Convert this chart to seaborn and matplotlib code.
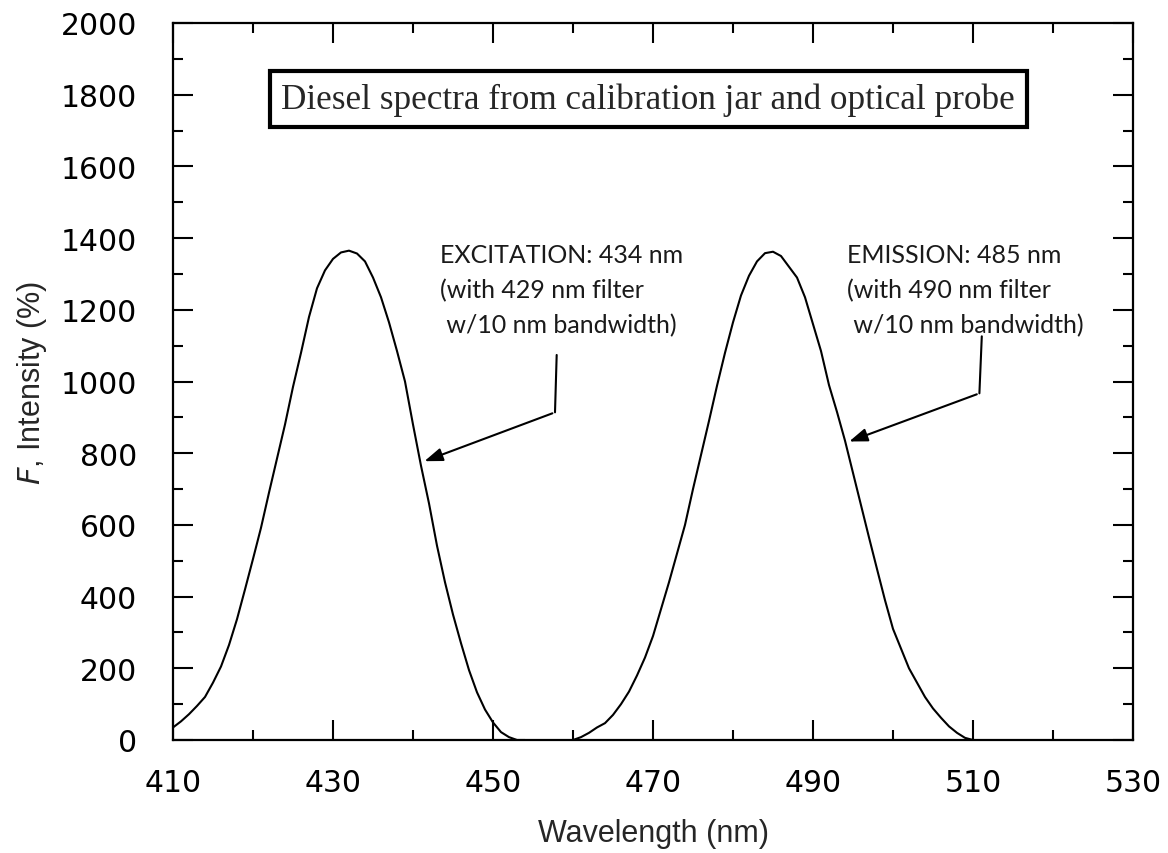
import numpy as np
import pandas as pd
import matplotlib
matplotlib.use("Agg")
import matplotlib.pyplot as plt
import seaborn as sns
from matplotlib.ticker import MultipleLocator

# ---- data ----
exc_wavelength = list(range(410, 455))
exc_intensity = [35, 52, 72, 95, 120, 160, 205, 265, 337, 420,
                 505, 592, 690, 785, 880, 985, 1080, 1180, 1260, 1310,
                 1342, 1360, 1365, 1357, 1335, 1290, 1235, 1165, 1085, 1000,
                 880, 765, 660, 542, 440, 350, 270, 195, 133, 85,
                 49, 22, 8, 0, 0]

em_wavelength = list(range(460, 511))
em_intensity = [0, 8, 20, 35, 47, 70, 100, 135, 180, 230,
                290, 365, 440, 520, 600, 700, 795, 890, 988, 1080,
                1165, 1240, 1295, 1335, 1358, 1362, 1350, 1320, 1290, 1235,
                1160, 1085, 990, 915, 835, 745, 655, 565, 477, 390,
                310, 255, 200, 160, 120, 88, 62, 38, 20, 6, 0]

x_ticks = [410, 430, 450, 470, 490, 510, 530]
y_ticks = [0, 200, 400, 600, 800, 1000, 1200, 1400, 1600, 1800, 2000]

title_text = "Diesel spectra from calibration jar and optical probe"
exc_lines = ["EXCITATION: 434 nm", "(with 429 nm filter", " w/10 nm bandwidth)"]
em_lines = ["EMISSION: 485 nm", "(with 490 nm filter", " w/10 nm bandwidth)"]

df = pd.concat([
    pd.DataFrame({"Wavelength": exc_wavelength, "Intensity": exc_intensity, "series": "Excitation"}),
    pd.DataFrame({"Wavelength": em_wavelength, "Intensity": em_intensity, "series": "Emission"}),
], ignore_index=True)

sns.set_style("ticks")
plt.rcParams["font.family"] = ["DejaVu Sans"]

fig = plt.figure(figsize=(11.68, 8.54), dpi=100)
ax = fig.add_axes([173 / 1168, 113 / 854, 960 / 1168, 717 / 854])

sns.lineplot(data=df, x="Wavelength", y="Intensity", hue="series",
             palette=["black", "black"], legend=False, linewidth=1.5, ax=ax)

ax.set_xlim(410, 530)
ax.set_ylim(0, 2000)
ax.set_xticks(x_ticks)
ax.set_yticks(y_ticks)
ax.xaxis.set_minor_locator(MultipleLocator(10))
ax.yaxis.set_minor_locator(MultipleLocator(100))
ax.tick_params(which="both", direction="in", top=True, right=True, width=1.5, colors="black")
ax.tick_params(which="major", length=14.5)
ax.tick_params(which="minor", length=7.5)
ax.tick_params(axis="x", which="major", pad=20, labelsize=21.5)
ax.tick_params(axis="y", which="major", pad=26, labelsize=21.5)
for s in ax.spines.values():
    s.set_linewidth(1.6)
    s.set_color("black")

ax.set_xlabel("Wavelength (nm)", fontsize=22, family="Liberation Sans", labelpad=15)
ax.set_ylabel(r"$\it{F}$, Intensity (%)", fontsize=22, family="Liberation Sans", labelpad=8)

ax.text(0.495, 0.894, title_text, transform=ax.transAxes, ha="center", va="center",
        fontsize=25.3, family="Liberation Serif",
        bbox=dict(boxstyle="square,pad=0.33", facecolor="white", edgecolor="black", linewidth=3))

ann_font = dict(fontsize=18, family="Lato", color="#1a1a1a")
line_gap = 97.6  # data units between baselines
for i, t in enumerate(exc_lines):
    ax.text(443.4, 1333 - i * line_gap, t, ha="left", va="baseline", **ann_font)
for i, t in enumerate(em_lines):
    ax.text(494.2, 1333 - i * line_gap, t, ha="left", va="baseline", **ann_font)

# leader lines with arrows
arrow_style = dict(arrowstyle="-|>,head_length=1.1,head_width=0.4", color="black", lw=1.5)
ax.plot([457.96, 457.75], [1074, 914], color="black", lw=1.5)
ax.annotate("", xy=(441.1, 775), xytext=(457.75, 914), arrowprops=arrow_style)
ax.plot([511.1, 510.8], [1126, 967], color="black", lw=1.5)
ax.annotate("", xy=(494.2, 830), xytext=(510.8, 967), arrowprops=arrow_style)

fig.savefig("out.png", dpi=100)
